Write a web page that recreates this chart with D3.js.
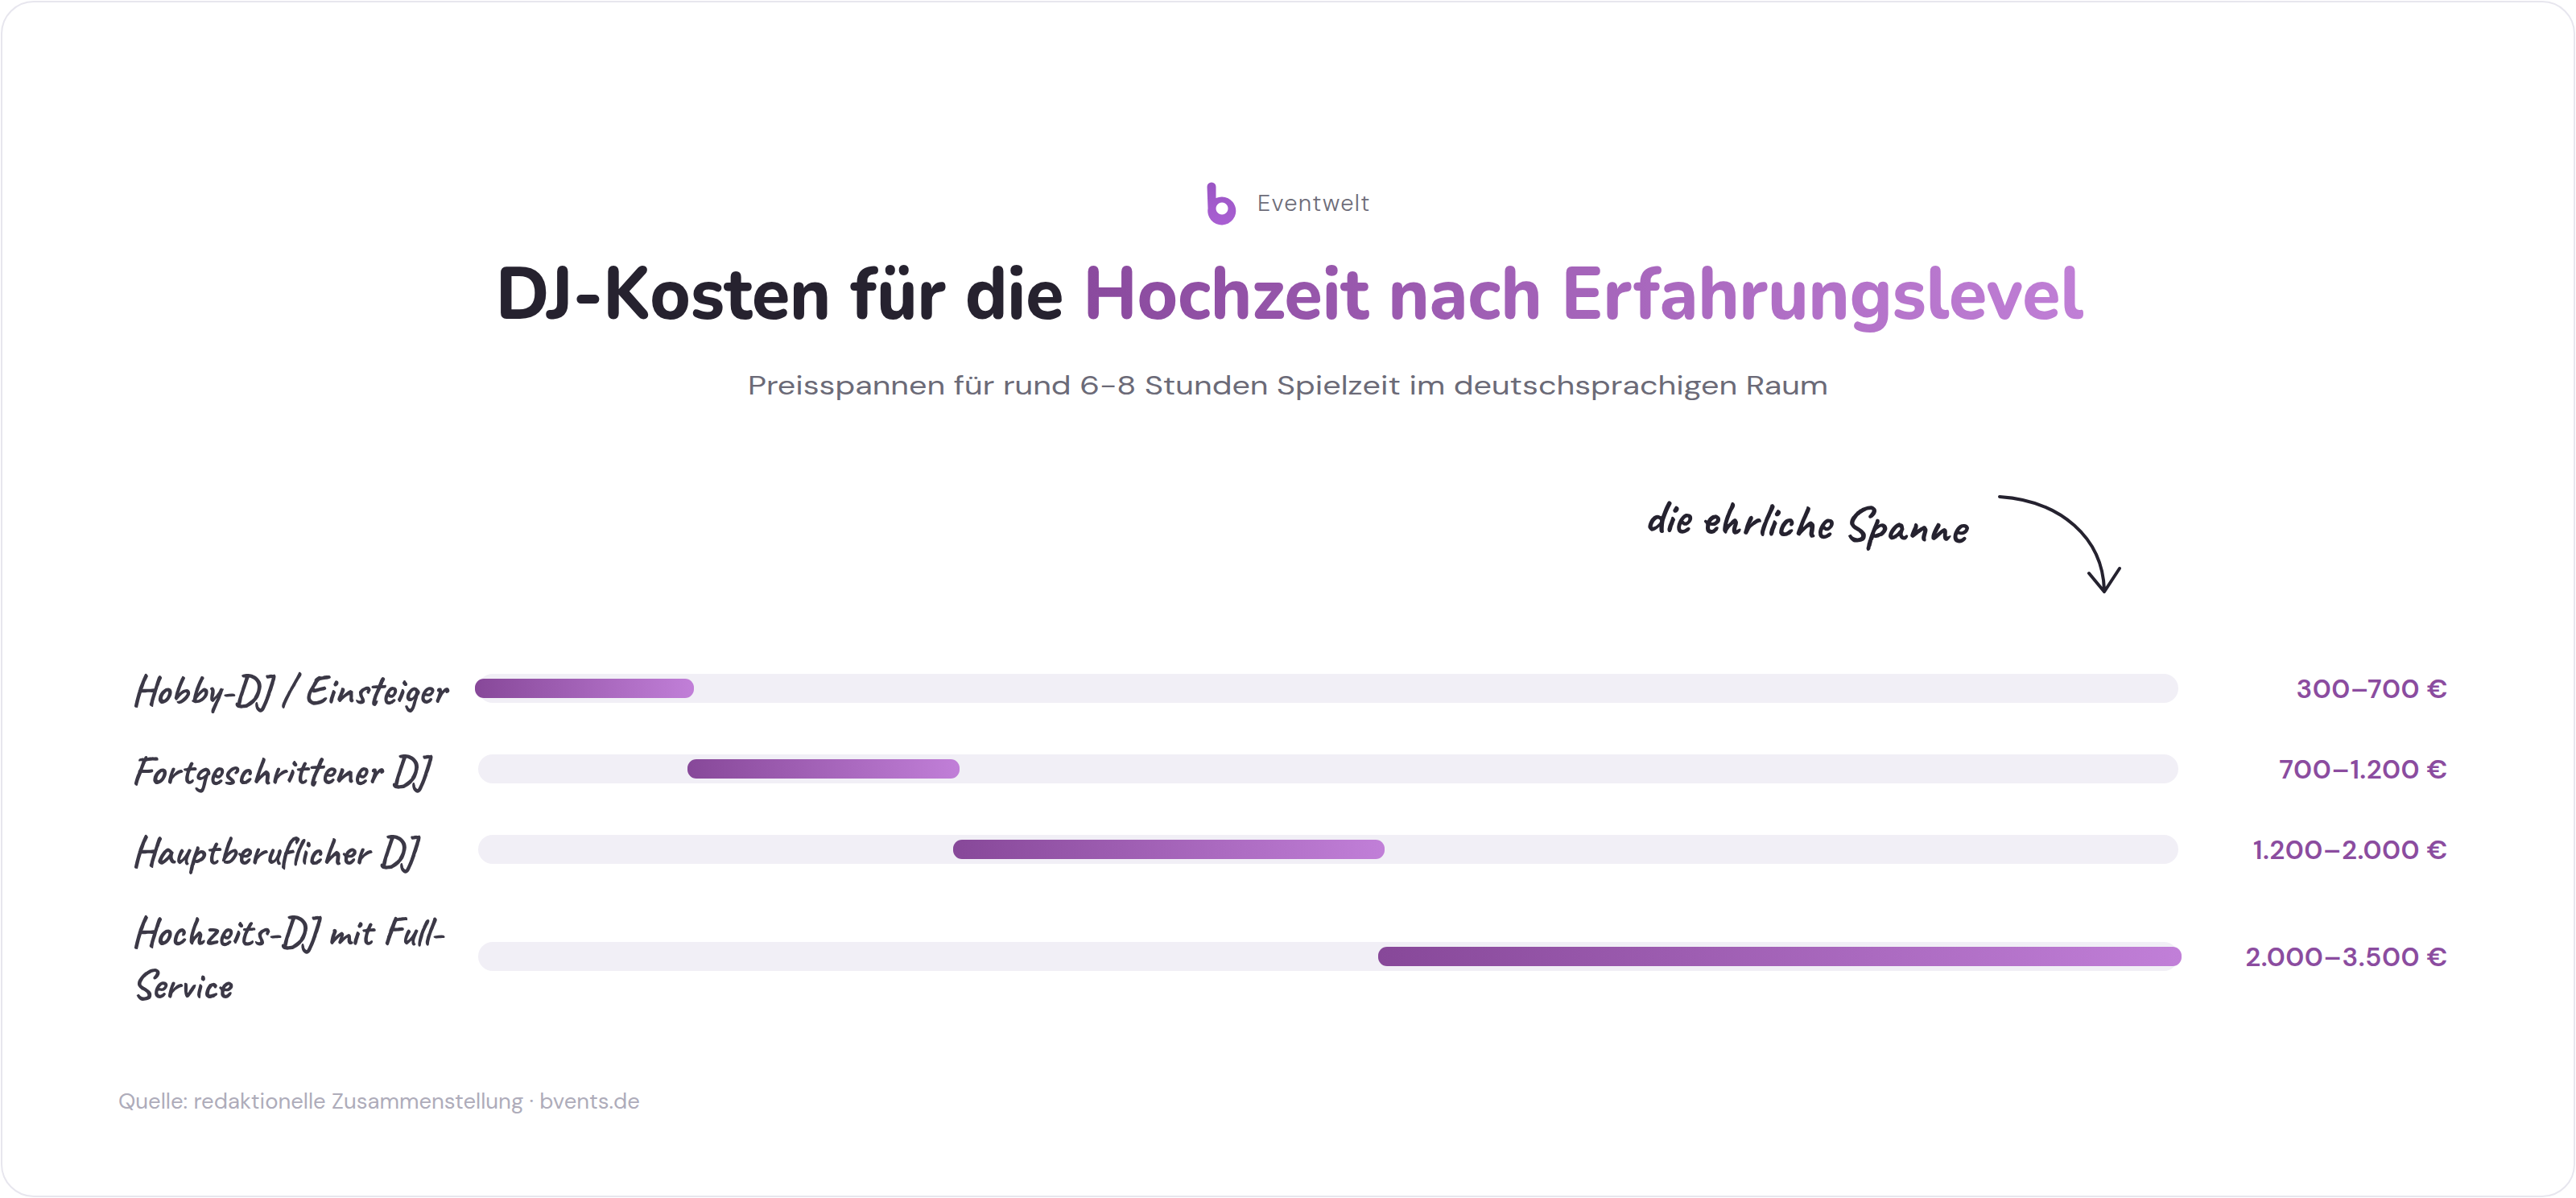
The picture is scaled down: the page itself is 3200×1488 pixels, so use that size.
<!DOCTYPE html>
<html lang="de">
<head>
<meta charset="UTF-8">
<title>DJ-Kosten für die Hochzeit nach Erfahrungslevel</title>
<script src="https://d3js.org/d3.v7.min.js"></script>
<style>
  html, body { margin: 0; padding: 0; background: #ffffff; }
  svg { display: block; }
</style>
</head>
<body>
<svg id="chart" width="3200" height="1488"></svg>
<script>
// --- data ---
const categories = ["Hobby-DJ / Einsteiger", "Fortgeschrittener DJ", "Hauptberuflicher DJ", "Hochzeits-DJ mit Full-Service"];
const minPrice = [300, 700, 1200, 2000];
const maxPrice = [700, 1200, 2000, 3500];

const titleDark = "DJ-Kosten für die ";
const titleAccent = "Hochzeit nach Erfahrungslevel";
const subtitle = "Preisspannen für rund 6-8 Stunden Spielzeit im deutschsprachigen Raum";
const brand = "Eventwelt";
const note = "die ehrliche Spanne";
const source = "Quelle: redaktionelle Zusammenstellung · bvents.de";

// --- setup ---
const width = 3200, height = 1488;
const svg = d3.select("#chart");
const defs = svg.append("defs");

const handFont = "Caveat, 'Kalam', Lato, sans-serif";
const sansFont = "'DM Sans', Inter, 'Open Sans', sans-serif";
const labelSize = 51;

const de = d3.formatLocale({ decimal: ",", thousands: ".", grouping: [3], currency: ["", " €"] });
const fmt = de.format(",d");

// gradients
const barGrad = defs.append("linearGradient").attr("id", "barGrad");
barGrad.append("stop").attr("offset", "0%").attr("stop-color", "#874899");
barGrad.append("stop").attr("offset", "100%").attr("stop-color", "#c17fd8");

const logoGrad = defs.append("linearGradient").attr("id", "logoGrad")
    .attr("x1", 0).attr("y1", 0).attr("x2", 0).attr("y2", 1);
logoGrad.append("stop").attr("offset", "0%").attr("stop-color", "#9a55c4");
logoGrad.append("stop").attr("offset", "100%").attr("stop-color", "#a95fd2");

// card
svg.append("rect")
    .attr("x", 2).attr("y", 2)
    .attr("width", width - 4).attr("height", height - 4)
    .attr("rx", 40)
    .attr("fill", "#ffffff")
    .attr("stroke", "#e7e6ee")
    .attr("stroke-width", 2);

// --- brand ---
const logo = svg.append("g");
logo.append("path")
    .attr("fill-rule", "evenodd")
    .attr("fill", "url(#logoGrad)")
    .attr("d", "M1499.5,232 a5.5,5.5 0 0 1 11,0 V246 A17.5,17.5 0 1 1 1500.5,259 Z " +
               "M1518,251.5 a7.5,7.5 0 1 0 0.01,0 Z");

svg.append("text")
    .attr("x", 1562).attr("y", 262)
    .attr("font-family", sansFont)
    .attr("font-size", 29)
    .attr("font-weight", 300)
    .attr("letter-spacing", 1.3)
    .attr("fill", "#6e6d79")
    .text(brand);

// --- title ---
const title = svg.append("text")
    .attr("x", 1602).attr("y", 396)
    .attr("text-anchor", "middle")
    .attr("font-family", "Nunito, Lato, sans-serif")
    .attr("font-size", 92)
    .attr("font-weight", 800)
    .attr("textLength", 1972)
    .attr("lengthAdjust", "spacingAndGlyphs");
title.append("tspan").attr("fill", "#26222f").text(titleDark);
title.append("tspan").attr("fill", "url(#titleGrad)").text(titleAccent);

let gx1 = 1341, gx2 = 2588;
try {
    const n = title.node();
    gx1 = n.getStartPositionOfChar(titleDark.length).x;
    gx2 = n.getEndPositionOfChar(titleDark.length + titleAccent.length - 1).x;
} catch (e) {}
const titleGrad = defs.append("linearGradient").attr("id", "titleGrad")
    .attr("gradientUnits", "userSpaceOnUse")
    .attr("x1", gx1).attr("x2", gx2).attr("y1", 0).attr("y2", 0);
titleGrad.append("stop").attr("offset", "0%").attr("stop-color", "#8a4a9e");
titleGrad.append("stop").attr("offset", "100%").attr("stop-color", "#c07fd6");

svg.append("text")
    .attr("x", 1600).attr("y", 490)
    .attr("text-anchor", "middle")
    .attr("font-family", sansFont)
    .attr("font-size", 33)
    .attr("fill", "#6b6a77")
    .attr("textLength", 1342)
    .attr("lengthAdjust", "spacingAndGlyphs")
    .text(subtitle);

// --- annotation ---
svg.append("text")
    .attr("transform", "translate(2042,660) rotate(2.1)")
    .attr("font-family", handFont)
    .attr("font-size", 60)
    .attr("font-weight", 600)
    .attr("fill", "#25222f")
    .text(note);

svg.append("path")
    .attr("d", "M2484,617 C2560,622 2612,668 2614,733 M2595,712 L2614,735 L2633,706")
    .attr("fill", "none")
    .attr("stroke", "#25222f")
    .attr("stroke-width", 4)
    .attr("stroke-linecap", "round")
    .attr("stroke-linejoin", "round");

// --- rows ---
const x = d3.scaleLinear()
    .domain([d3.min(minPrice), d3.max(maxPrice)])
    .range([594, 2706]);

const labelX = 163, labelMax = 420, lineH = 66, rowBase = 100;

// measure for wrapping
const probe = svg.append("text")
    .attr("font-family", handFont).attr("font-weight", 600).attr("font-size", labelSize);
function measure(s) { probe.text(s); return probe.node().getComputedTextLength(); }
function wrap(s) {
    const parts = s.split(/(?<=[ -])/);
    const lines = [];
    let cur = "";
    parts.forEach(p => {
        const test = cur + p;
        if (cur && measure(test.trim()) > labelMax) { lines.push(cur.trim()); cur = p; }
        else cur = test;
    });
    if (cur) lines.push(cur.trim());
    return lines;
}

const rows = categories.map((c, i) => ({ label: c, lines: wrap(c), lo: minPrice[i], hi: maxPrice[i] }));
probe.remove();

let rowTop = 805;
rows.forEach(r => {
    const h = rowBase + (r.lines.length - 1) * lineH;
    r.cy = rowTop + h / 2;
    rowTop += h;
});

const row = svg.selectAll(".row")
    .data(rows)
    .enter().append("g")
    .attr("class", "row");

row.append("rect")
    .attr("x", x.range()[0])
    .attr("y", d => d.cy - 18)
    .attr("width", x.range()[1] - x.range()[0])
    .attr("height", 36)
    .attr("rx", 18)
    .attr("fill", "#f1eff6");

row.append("rect")
    .attr("x", d => x(d.lo) - 4)
    .attr("y", d => d.cy - 12)
    .attr("width", d => x(d.hi) - x(d.lo) + 8)
    .attr("height", 24)
    .attr("rx", 11)
    .attr("fill", "url(#barGrad)");

row.each(function(d) {
    const g = d3.select(this);
    const n = d.lines.length;
    d.lines.forEach((line, i) => {
        g.append("text")
            .attr("x", labelX)
            .attr("y", d.cy - (n - 1) * lineH / 2 + i * lineH + 19)
            .attr("font-family", handFont)
            .attr("font-size", labelSize)
            .attr("font-weight", 600)
            .attr("fill", "#3b3846")
            .text(line);
    });
});

row.append("text")
    .attr("x", 3041)
    .attr("y", d => d.cy + 12)
    .attr("text-anchor", "end")
    .attr("font-family", sansFont)
    .attr("font-size", 33)
    .attr("font-weight", 600)
    .attr("letter-spacing", 0.5)
    .attr("fill", "#8b4c9f")
    .text(d => fmt(d.lo) + "–" + fmt(d.hi) + " €");

// --- footer ---
svg.append("text")
    .attr("x", 147).attr("y", 1377)
    .attr("font-family", sansFont)
    .attr("font-size", 27.5)
    .attr("fill", "#aeacba")
    .text(source);
</script>
</body>
</html>
